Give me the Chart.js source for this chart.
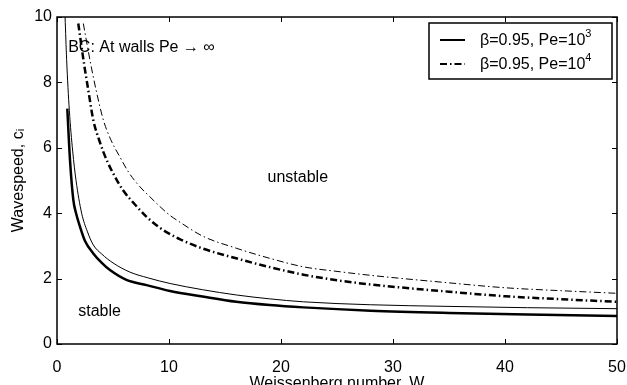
<!DOCTYPE html>
<html>
<head>
  <title>Wavespeed vs Weissenberg number</title>
  <script src="https://cdn.jsdelivr.net/npm/chart.js@4.4.0/dist/chart.umd.min.js"></script>
  <style>
    body { margin: 0; background: #fff; }
  </style>
</head>
<body>
  <canvas id="waveChart" width="627" height="385"></canvas>
  <script>
    // values: W (x) and c_i (y) for each curve
    const wThinSolid = [0.72, 0.86, 1.1, 1.4, 1.7, 2.2, 2.7, 3.24, 4, 5, 6.5, 8.15, 10.1, 13, 16, 19, 22, 28, 35, 42, 50];
    const cThinSolid = [10, 8.7, 7.15, 5.9, 5.0, 4.0, 3.45, 3.03, 2.75, 2.48, 2.2, 2.02, 1.85, 1.66, 1.5, 1.38, 1.29, 1.2, 1.15, 1.11, 1.08];

    const wThickSolid = [0.92, 1.16, 1.46, 1.7, 2.05, 2.5, 3.24, 4, 4.73, 6.2, 8, 10.1, 13, 16, 19, 22, 28, 35, 42, 50];
    const cThickSolid = [7.2, 5.63, 4.4, 4.0, 3.59, 3.15, 2.77, 2.48, 2.26, 1.96, 1.8, 1.62, 1.45, 1.29, 1.19, 1.12, 1.02, 0.95, 0.9, 0.86];

    const wThinDash = [2.35, 3.0, 3.5, 4.14, 4.8, 5.6, 6.4, 7.4, 8.3, 9.2, 10.1, 11, 13, 16, 19, 22, 25, 28, 35, 40, 45, 50];
    const cThinDash = [9.8, 8.58, 7.75, 6.85, 6.25, 5.73, 5.25, 4.81, 4.5, 4.2, 3.93, 3.72, 3.3, 2.93, 2.62, 2.36, 2.22, 2.1, 1.87, 1.72, 1.63, 1.55];

    const wThickDash = [1.9, 2.41, 2.8, 3.24, 3.8, 4.43, 5.2, 5.9, 7, 8, 9.2, 10.1, 11, 13, 16, 19, 22, 25, 28, 35, 40, 45, 50];
    const cThickDash = [9.8, 8.58, 7.75, 6.85, 6.2, 5.63, 5.1, 4.7, 4.25, 3.89, 3.55, 3.36, 3.2, 2.92, 2.62, 2.35, 2.12, 1.95, 1.82, 1.6, 1.46, 1.37, 1.29];

    const legendLabels = ['β=0.95, Pe=10', 'β=0.95, Pe=10'];
    const legendPowers = ['3', '4'];

    const FONT = '"Liberation Sans", Arial, Helvetica, sans-serif';
    const dashDot = [7, 3, 1.5, 3];

    function pts(w, c) {
      return w.map((x, i) => ({ x: x, y: c[i] }));
    }

    // box round the plot, inward ticks, labels and the boxed legend
    const decorPlugin = {
      id: 'decor',
      afterDraw(chart) {
        const { ctx, chartArea: a, scales: { x, y } } = chart;
        ctx.save();
        ctx.strokeStyle = '#000';
        ctx.lineWidth = 1.5;
        ctx.strokeRect(a.left, a.top, a.right - a.left, a.bottom - a.top);

        ctx.lineWidth = 1;
        const tl = 5;
        ctx.beginPath();
        x.ticks.forEach(t => {
          const px = Math.round(x.getPixelForValue(t.value)) + 0.5;
          ctx.moveTo(px, a.bottom); ctx.lineTo(px, a.bottom - tl);
          ctx.moveTo(px, a.top); ctx.lineTo(px, a.top + tl);
        });
        y.ticks.forEach(t => {
          const py = Math.round(y.getPixelForValue(t.value)) + 0.5;
          ctx.moveTo(a.left, py); ctx.lineTo(a.left + tl, py);
          ctx.moveTo(a.right, py); ctx.lineTo(a.right - tl, py);
        });
        ctx.stroke();

        // text labels in data coordinates
        ctx.fillStyle = '#000';
        ctx.font = '16px ' + FONT;
        ctx.textBaseline = 'middle';
        ctx.textAlign = 'left';
        ctx.fillText('BC: At walls Pe → ∞', x.getPixelForValue(1.0), y.getPixelForValue(9.05));
        ctx.fillText('unstable', x.getPixelForValue(18.8), y.getPixelForValue(5.08));
        ctx.fillText('stable', x.getPixelForValue(1.9), y.getPixelForValue(1.0));

        // legend
        const bx = a.right - 188, by = a.top + 6, bw = 183, bh = 56;
        ctx.fillStyle = '#fff';
        ctx.fillRect(bx, by, bw, bh);
        ctx.lineWidth = 1.5;
        ctx.strokeRect(bx, by, bw, bh);
        const rows = [by + 17, by + 41];
        rows.forEach((ry, i) => {
          ctx.beginPath();
          ctx.lineWidth = 2;
          ctx.setLineDash(i === 0 ? [] : dashDot);
          ctx.moveTo(bx + 11, ry); ctx.lineTo(bx + 36, ry);
          ctx.stroke();
          ctx.setLineDash([]);
          ctx.fillStyle = '#000';
          ctx.font = '16px ' + FONT;
          ctx.fillText(legendLabels[i], bx + 51, ry + 1);
          const tw = ctx.measureText(legendLabels[i]).width;
          ctx.font = '11px ' + FONT;
          ctx.fillText(legendPowers[i], bx + 51 + tw, ry - 6);
        });
        ctx.restore();
      }
    };

    const ctx = document.getElementById('waveChart').getContext('2d');
    const waveChart = new Chart(ctx, {
      type: 'line',
      data: {
        datasets: [
          {
            label: 'thin solid',
            data: pts(wThinSolid, cThinSolid),
            borderColor: '#000',
            borderWidth: 1,
            pointRadius: 0,
            cubicInterpolationMode: 'monotone'
          },
          {
            label: 'thick solid',
            data: pts(wThickSolid, cThickSolid),
            borderColor: '#000',
            borderWidth: 2.5,
            pointRadius: 0,
            cubicInterpolationMode: 'monotone'
          },
          {
            label: 'thin dash-dot',
            data: pts(wThinDash, cThinDash),
            borderColor: '#000',
            borderWidth: 1,
            borderDash: dashDot,
            pointRadius: 0,
            cubicInterpolationMode: 'monotone'
          },
          {
            label: 'thick dash-dot',
            data: pts(wThickDash, cThickDash),
            borderColor: '#000',
            borderWidth: 2.5,
            borderDash: dashDot,
            pointRadius: 0,
            cubicInterpolationMode: 'monotone'
          }
        ]
      },
      options: {
        responsive: false,
        devicePixelRatio: 1,
        animation: false,
        layout: { padding: { left: 0, right: 10, top: 17, bottom: 0 } },
        plugins: {
          legend: { display: false },
          tooltip: { enabled: false }
        },
        scales: {
          x: {
            type: 'linear',
            min: 0,
            max: 50,
            grid: { display: false, drawTicks: false },
            border: { display: false },
            ticks: { stepSize: 10, color: '#000', font: { family: FONT, size: 16 }, padding: 14 },
            title: {
              display: true,
              text: 'Weissenberg number, W',
              color: '#000',
              font: { family: FONT, size: 16 },
              padding: { top: 0, bottom: -8 }
            },
            afterFit: s => {
              s.height = 41;
              s.paddingLeft = 0;
              s.paddingRight = 0;
            }
          },
          y: {
            min: 0,
            max: 10,
            grid: { display: false, drawTicks: false },
            border: { display: false },
            ticks: { stepSize: 2, color: '#000', font: { family: FONT, size: 16 }, padding: 5 },
            title: {
              display: true,
              text: 'Wavespeed, cᵢ',
              color: '#000',
              font: { family: FONT, size: 16 },
              padding: { top: 9, bottom: 0 }
            },
            afterFit: s => {
              s.width = 57;
              s.paddingTop = 0;
              s.paddingBottom = 0;
            }
          }
        }
      },
      plugins: [decorPlugin]
    });
  </script>
</body>
</html>
